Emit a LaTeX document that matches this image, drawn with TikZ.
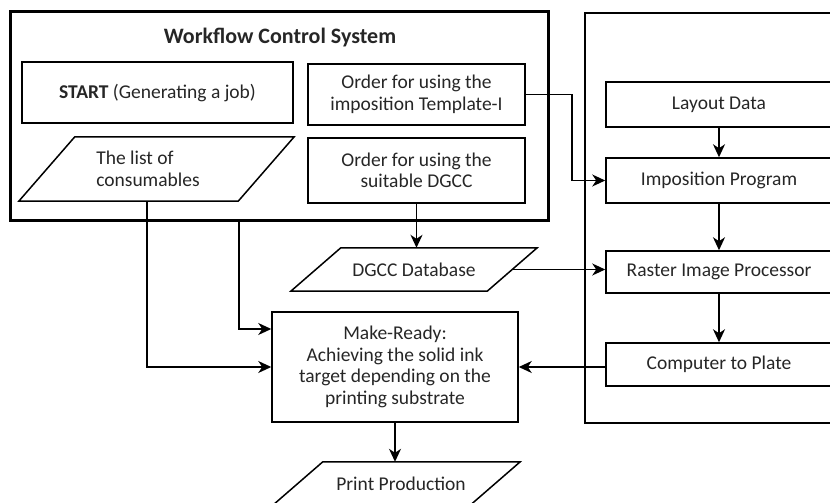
\documentclass[tikz,border=0pt]{standalone}
\usepackage{fontspec}
\setmainfont{Carlito}
\usetikzlibrary{arrows.meta,calc}
% parallelogram drawn over a borderless node: #1 node name, #2 slant offset
\newcommand\slanted[2]{\draw[line width=1.5pt] ([xshift=#2]#1.north west) -- (#1.north east) -- ([xshift=-#2]#1.south east) -- (#1.south west) -- cycle;}
\begin{document}
\begin{tikzpicture}[x=1pt,y=-1pt,
  every node/.style={font=\fontsize{19.5}{21.5}\selectfont, text=black!85},
  box/.style={draw, line width=1.5pt, inner sep=0pt, align=center},
  slab/.style={inner sep=0pt, align=center},
  arr/.style={line width=1.5pt, -{Stealth[length=13pt,width=12pt,inset=4pt]}}]
\useasboundingbox (0,0) rectangle (830,503);

% Workflow control system
\node[draw, line width=3pt, minimum width=538pt, minimum height=208pt] (wcs) at (279,116) {};
\node[font=\bfseries\fontsize{22}{24}\selectfont] (title) at (280,38) {Workflow Control System};
\node[box, minimum width=271pt, minimum height=61pt] (start) at (157.5,92.7) {\textbf{START} (Generating a job)};
\node[box, minimum width=217pt, minimum height=61pt] (ord1) at (416.5,94.5) {Order for using the\\imposition Template-I};
\node[slab, minimum width=275pt, minimum height=64pt] (list) at (156.5,169) {};
\slanted{list}{56pt}
\node[align=left] (listtxt) at (148,169) {The list of\\consumables};
\node[box, minimum width=217pt, minimum height=65pt] (ord2) at (416.5,170.5) {Order for using the\\suitable DGCC};

% prepress system
\node[draw, line width=1.1pt, minimum width=265pt, minimum height=410pt] (rsys) at (717.5,218) {};
\node[box, minimum width=226pt, minimum height=45pt] (layout) at (719,104.5) {Layout Data};
\node[box, minimum width=226pt, minimum height=45pt] (imp) at (719,180.5) {Imposition Program};
\node[box, minimum width=226pt, minimum height=42pt] (rip) at (719,272) {Raster Image Processor};
\node[box, minimum width=226pt, minimum height=43pt] (ctp) at (719,364.5) {Computer to Plate};

% database, make-ready and production
\node[slab, minimum width=246pt, minimum height=43pt] (db) at (414,269.5) {DGCC Database};
\slanted{db}{50pt}
\node[box, minimum width=246pt, minimum height=110pt] (mr) at (395,367) {Make-Ready:\\Achieving the solid ink\\target depending on the\\printing substrate};
\node[slab, minimum width=247pt, minimum height=43pt] (pp) at (396.5,483.5) {};
\slanted{pp}{50pt}
\node (pptxt) at (401,483.5) {Print Production};

% connectors
\draw[arr] (layout) -- (imp);
\draw[arr] (imp) -- (rip);
\draw[arr] (rip) -- (ctp);
\draw[arr] (ord1.east) -- ++(46,0) |- (imp.west);
\draw[arr] (ord2.south) -- (ord2.south |- db.north);
\coordinate (dbr) at ($(db.north east)!0.5!([xshift=-50pt]db.south east)$);
\draw[arr] (dbr) -- (dbr -| rip.west);
\draw[arr] ([xshift=-9.5pt]list.south) |- (mr.west);
\draw[arr] ([xshift=-40pt]wcs.south) |- ([yshift=38pt]mr.west);
\draw[arr] (mr.east -| ctp.west) -- (mr.east);
\draw[arr] (mr.south) -- (mr.south |- pp.north);
\end{tikzpicture}
\end{document}
